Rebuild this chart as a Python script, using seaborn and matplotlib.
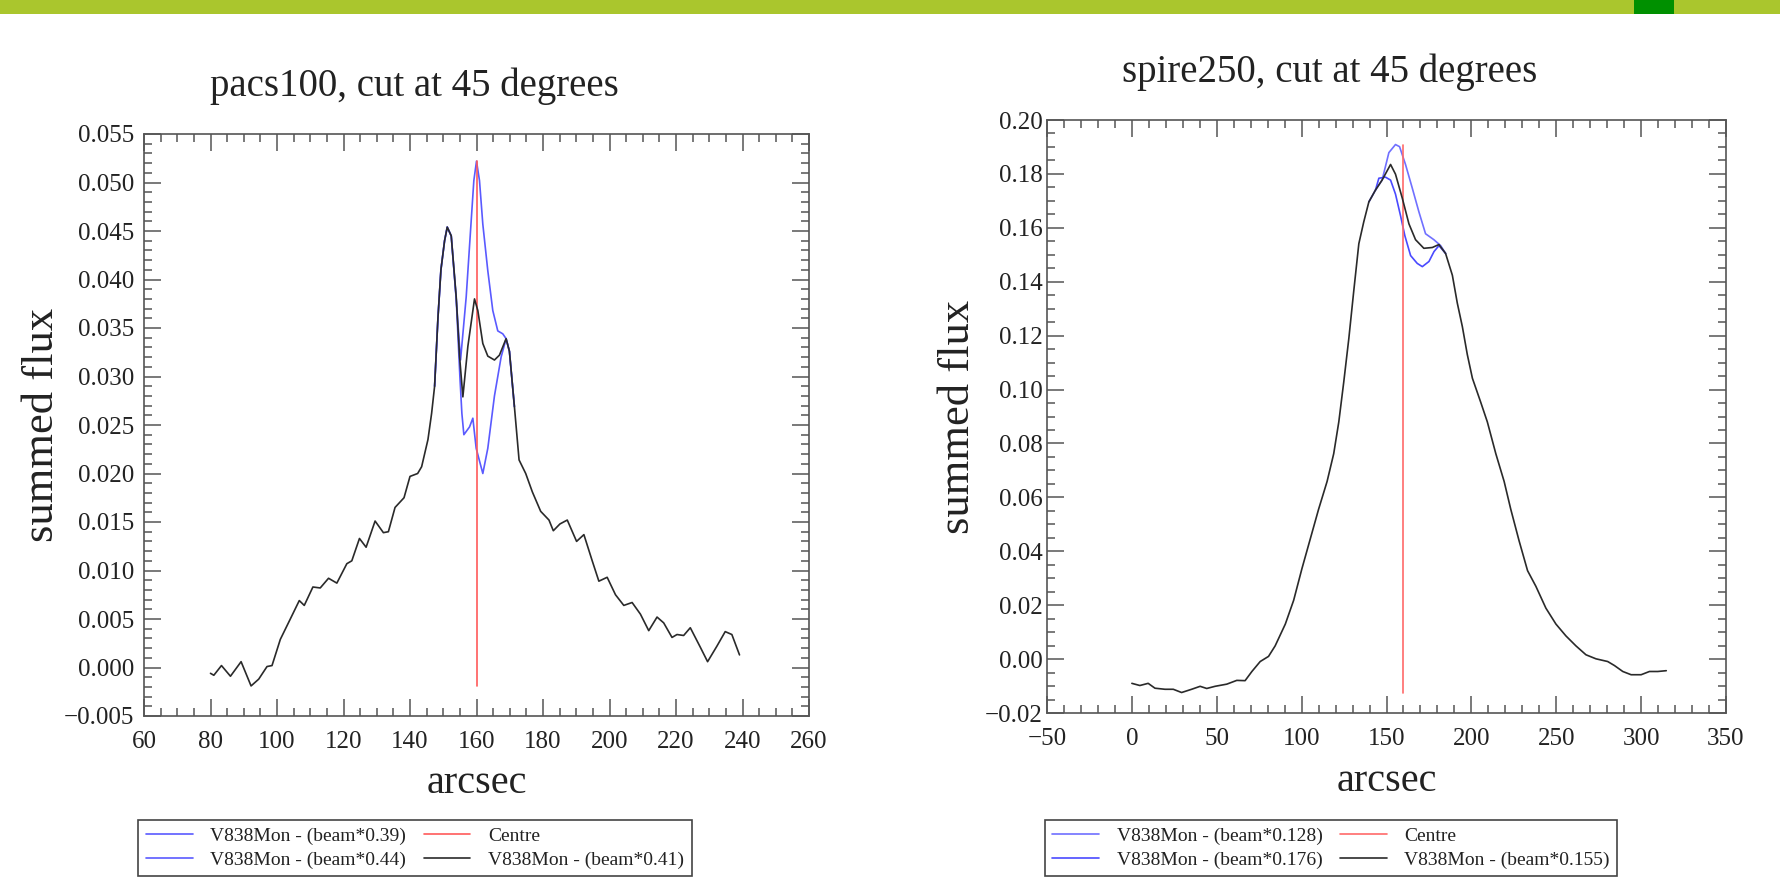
import matplotlib
matplotlib.use("Agg")
import matplotlib.pyplot as plt
from matplotlib.ticker import MultipleLocator, FuncFormatter
from matplotlib.patches import Rectangle
import seaborn as sns

# ---------------- data: pacs100 ----------------
pacs_x = [80, 81, 83.3, 86, 89.2, 92.2, 94.5, 97, 98.5, 101, 104, 106.7, 108.2, 110.8, 113,
          115.5, 118, 121, 122.5, 124.8, 126.8, 129.5, 132, 133.5, 135.5, 138.2, 140, 142.3,
          143.5, 145.4, 146.5, 147.4, 148.4, 149.3, 150.4, 151.2, 152.4, 153.9, 154.9, 155.9,
          157.4, 159.4, 160.4, 161.9, 163.4, 165.4, 166.9, 168.9, 169.9, 171.4, 172.8, 174.8,
          176.8, 179.3, 181.8, 183.1, 185.1, 187.3, 190.1, 192.3, 194.8, 196.8, 199.3, 201.8,
          204.3, 206.8, 209.3, 211.8, 214.3, 216.3, 218.8, 220.3, 222.3, 224.3, 227.3, 229.5,
          232.3, 234.8, 236.8, 239.1]
pacs_041 = [-0.0006, -0.0008, 0.0002, -0.0009, 0.0006, -0.0019, -0.0012, 0.0001, 0.0002, 0.0029,
            0.0050, 0.0069, 0.0064, 0.0083, 0.0082, 0.0092, 0.0087, 0.0107, 0.0110, 0.0133,
            0.0124, 0.0151, 0.0139, 0.0140, 0.0165, 0.0175, 0.0197, 0.0200, 0.0207, 0.0235,
            0.0262, 0.0290, 0.0360, 0.0410, 0.0440, 0.0454, 0.0445, 0.0382, 0.0321, 0.0279,
            0.0331, 0.0380, 0.0368, 0.0334, 0.0321, 0.0317, 0.0322, 0.0339, 0.0326, 0.0269,
            0.0214, 0.0200, 0.0181, 0.0161, 0.0152, 0.0141, 0.0148, 0.0152, 0.0130, 0.0137,
            0.0110, 0.0089, 0.0093, 0.0075, 0.0064, 0.0067, 0.0055, 0.0038, 0.0052, 0.0046,
            0.0031, 0.0034, 0.0033, 0.0041, 0.0021, 0.0006, 0.0022, 0.0037, 0.0034, 0.0013]

pacs_x_039 = [147.4, 148.4, 149.3, 150.4, 151.2, 152.4, 153.9, 155.2, 156.9, 158.2, 159.2, 160.0,
              160.9, 161.9, 163.4, 164.9, 166.4, 167.9, 168.9, 169.9, 171.4]
pacs_039 = [0.0290, 0.0360, 0.0410, 0.0440, 0.0454, 0.0445, 0.0380, 0.0317, 0.0382, 0.0450,
            0.0502, 0.0522, 0.0502, 0.0457, 0.0409, 0.0368, 0.0347, 0.0344, 0.0339, 0.0326, 0.0269]

pacs_x_044 = [147.4, 148.4, 149.3, 150.4, 151.2, 152.4, 153.9, 155.0, 155.6, 156.2, 157.9, 158.9,
              159.9, 161.9, 163.4, 165.4, 167.4, 168.9, 169.9, 171.4]
pacs_044 = [0.0290, 0.0360, 0.0410, 0.0440, 0.0454, 0.0445, 0.0380, 0.0300, 0.0262, 0.0240,
            0.0248, 0.0257, 0.0226, 0.0200, 0.0226, 0.0280, 0.0320, 0.0339, 0.0326, 0.0269]

# ---------------- data: spire250 ----------------
spire_x = [0, 4.7, 9.6, 13.6, 19.5, 24.4, 29.3, 35.2, 40.2, 44.1, 49, 55.9, 61.8, 66.7, 70.7,
           75.6, 80.5, 84.4, 90.4, 95.3, 100.2, 105.1, 110, 115, 118.9, 121.9, 124.8, 127.8,
           130.7, 133.7, 136.6, 139.6, 143.5, 147.4, 152.4, 155.3, 159.3, 163.2, 167.1, 172,
           177, 180.9, 184.8, 188.8, 191.7, 194.7, 197.6, 200.6, 205.5, 209.4, 214.4, 219.3,
           223.2, 228.1, 233.1, 238, 243.9, 249.8, 255.7, 261.6, 267.5, 273.4, 280.3, 284.3,
           289.2, 294.1, 300, 304.9, 309.8, 314.8]
spire_0155 = [-0.0090, -0.0098, -0.0090, -0.0108, -0.0112, -0.0112, -0.0124, -0.0112, -0.0101,
              -0.0109, -0.0101, -0.0093, -0.0079, -0.0080, -0.0046, -0.0009, 0.0010, 0.0049,
              0.0130, 0.0218, 0.0336, 0.0446, 0.0556, 0.0659, 0.0762, 0.0880, 0.1027, 0.1189,
              0.1365, 0.1541, 0.1622, 0.1696, 0.1740, 0.1777, 0.1835, 0.1799, 0.1710, 0.1615,
              0.1556, 0.1524, 0.1527, 0.1538, 0.1505, 0.1424, 0.1321, 0.1233, 0.1130, 0.1042,
              0.0953, 0.0880, 0.0762, 0.0659, 0.0556, 0.0439, 0.0328, 0.0270, 0.0189, 0.0130,
              0.0086, 0.0049, 0.0016, 0.0001, -0.0009, -0.0024, -0.0046, -0.0058, -0.0058,
              -0.0046, -0.0046, -0.0043]

spire_x_0128 = [143.5, 147.4, 151.4, 155.3, 157.7, 161.2, 165.2, 169.1, 173, 177.9, 181.9, 184.8]
spire_0128 = [0.1740, 0.1777, 0.1879, 0.1909, 0.1901, 0.1835, 0.1747, 0.1659, 0.1578, 0.1556,
              0.1534, 0.1505]

spire_x_0176 = [139.6, 143.5, 145.5, 149.4, 152.4, 155.3, 158.3, 160.8, 164.2, 168.1, 171.1,
                175, 178, 180.9, 184.8]
spire_0176 = [0.1696, 0.1740, 0.1784, 0.1788, 0.1777, 0.1725, 0.1644, 0.1571, 0.1497, 0.1468,
              0.1456, 0.1475, 0.1512, 0.1534, 0.1505]

centre_x = 160

titles = ["pacs100, cut at 45 degrees", "spire250, cut at 45 degrees"]
pacs_labels = ["V838Mon - (beam*0.39)", "V838Mon - (beam*0.44)", "Centre", "V838Mon - (beam*0.41)"]
spire_labels = ["V838Mon - (beam*0.128)", "V838Mon - (beam*0.176)", "Centre", "V838Mon - (beam*0.155)"]

# ---------------- style ----------------
sns.set_theme(style="ticks")
plt.rcParams["font.family"] = ["Liberation Serif", "DejaVu Serif"]
plt.rcParams["axes.unicode_minus"] = True
TXT = "#222222"

fig = plt.figure(figsize=(17.8, 8.91), dpi=100)
fig.patch.set_facecolor("white")
# slide banner
fig.patches.append(Rectangle((0, 1 - 14 / 891), 1, 14 / 891, transform=fig.transFigure,
                             facecolor="#AAC62D", edgecolor="none", zorder=0))
fig.patches.append(Rectangle((1634 / 1780, 1 - 14 / 891), 40 / 1780, 14 / 891,
                             transform=fig.transFigure, facecolor="#009000",
                             edgecolor="none", zorder=1))

ax1 = fig.add_axes([144 / 1780, 1 - 716 / 891, 665 / 1780, 582 / 891])
ax2 = fig.add_axes([1047 / 1780, 1 - 713 / 891, 679 / 1780, 593 / 891])


def draw(ax, xb, yb, xh, yh, xl, yl, labels, cols, lw=1.2):
    h1 = sns.lineplot(x=xh, y=yh, ax=ax, color=cols[0], linewidth=lw, estimator=None,
                      sort=False, legend=False).lines[-1]
    h2 = sns.lineplot(x=xl, y=yl, ax=ax, color=cols[1], linewidth=lw, estimator=None,
                      sort=False, legend=False).lines[-1]
    allv = list(yb) + list(yh) + list(yl)
    h3 = sns.lineplot(x=[centre_x, centre_x], y=[min(allv), max(allv)], ax=ax, color=cols[2],
                      linewidth=lw, estimator=None, sort=False, legend=False).lines[-1]
    h4 = sns.lineplot(x=xb, y=yb, ax=ax, color=cols[3], linewidth=lw, estimator=None,
                      sort=False, legend=False).lines[-1]
    for h, lab in zip([h1, h2, h3, h4], labels):
        h.set_label(lab)
    return [h1, h2, h3, h4]


hs1 = draw(ax1, pacs_x, pacs_041, pacs_x_039, pacs_039, pacs_x_044, pacs_044, pacs_labels,
           ["#5a5aff", "#5a5aff", "#ff5a5a", "#2a2a2a"])
hs2 = draw(ax2, spire_x, spire_0155, spire_x_0128, spire_0128, spire_x_0176, spire_0176,
           spire_labels, ["#7070ff", "#4a4aff", "#ff6a6a", "#2a2a2a"])


def fmt(nd):
    def f(v, pos):
        s = f"{abs(v):.{nd}f}"
        return ("\u2212" + s) if v < -1e-12 else s
    return FuncFormatter(f)


ax1.set_xlim(60, 260)
ax1.set_ylim(-0.005, 0.055)
ax1.xaxis.set_major_locator(MultipleLocator(20))
ax1.xaxis.set_minor_locator(MultipleLocator(5))
ax1.yaxis.set_major_locator(MultipleLocator(0.005))
ax1.yaxis.set_minor_locator(MultipleLocator(0.001))
ax1.yaxis.set_major_formatter(fmt(3))

ax2.set_xlim(-50, 350)
ax2.set_ylim(-0.02, 0.20)
ax2.xaxis.set_major_locator(MultipleLocator(50))
ax2.xaxis.set_minor_locator(MultipleLocator(10))
ax2.yaxis.set_major_locator(MultipleLocator(0.02))
ax2.yaxis.set_minor_locator(MultipleLocator(0.005))
ax2.yaxis.set_major_formatter(fmt(2))
ax2.xaxis.set_major_formatter(fmt(0))

for ax, ylc, xlc, ypad in [(ax1, -0.153, -0.116, 7), (ax2, -0.131, -0.116, 3)]:
    ax.set_facecolor("white")
    for s in ax.spines.values():
        s.set_visible(True)
        s.set_color("#555555")
        s.set_linewidth(1.2)
    ax.tick_params(which="both", direction="in", top=True, right=True, colors="#555555",
                   labelcolor=TXT, labelsize=18, width=1.1)
    ax.tick_params(which="major", length=12)
    ax.tick_params(which="minor", length=6)
    ax.tick_params(axis="x", which="major", pad=11)
    ax.tick_params(axis="y", which="major", pad=ypad)
    ax.set_xlabel("arcsec", fontsize=29, color=TXT)
    ax.set_ylabel("summed flux", fontsize=32, color=TXT)
    ax.xaxis.label.set_va("center")
    ax.yaxis.label.set_va("center")
    ax.xaxis.set_label_coords(0.5, xlc)
    ax.yaxis.set_label_coords(ylc, 0.5)
    ax.grid(False)

fig.text(414 / 1780, 1 - 86 / 891, titles[0], ha="center", va="center", fontsize=28, color=TXT)
fig.text(1330 / 1780, 1 - 72 / 891, titles[1], ha="center", va="center", fontsize=28, color=TXT)

for hs, cx in [(hs1, 415 / 1780), (hs2, 1331 / 1780)]:
    leg = fig.legend(handles=hs, labels=[h.get_label() for h in hs], ncol=2, loc="center",
                     bbox_to_anchor=(cx, 1 - 848 / 891), bbox_transform=fig.transFigure,
                     fontsize=14, frameon=True, fancybox=False, edgecolor="#444444",
                     framealpha=1, handlelength=2.4, handletextpad=0.9, columnspacing=0.9,
                     labelspacing=0.3, borderpad=0.4, borderaxespad=0)
    leg.get_frame().set_linewidth(1.2)
    for t in leg.get_texts():
        t.set_color(TXT)

fig.savefig("out.png", dpi=100)
